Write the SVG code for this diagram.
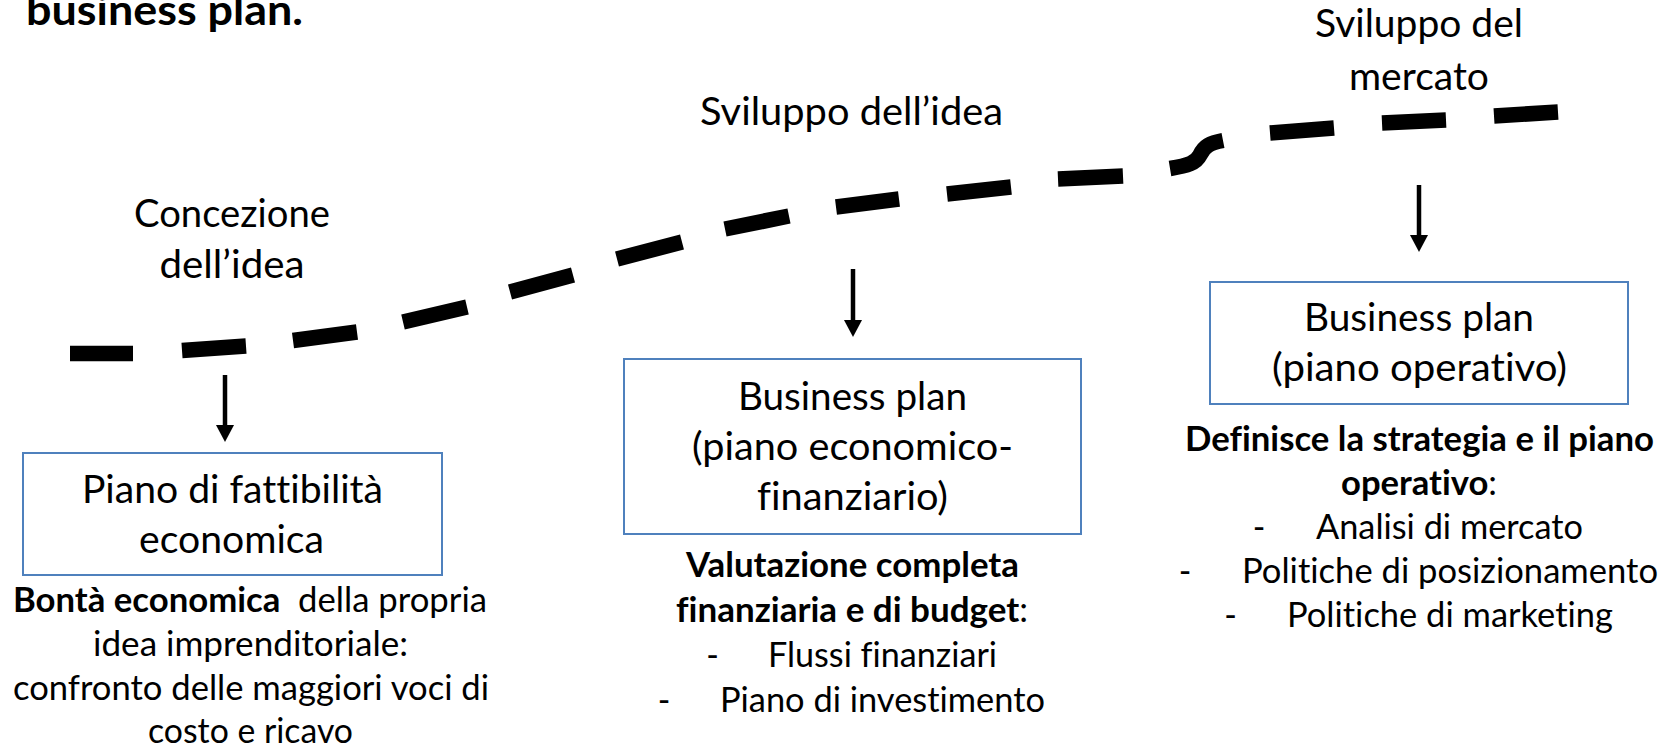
<svg xmlns="http://www.w3.org/2000/svg" width="1671" height="748" viewBox="0 0 1671 748">
  <style>
    .t { font-family: Lato, "Open Sans", "Liberation Sans", sans-serif; fill: #000; font-variant-ligatures: none; font-feature-settings: "liga" 0, "clig" 0; }
    .lg { font-size: 39px; }
    .md { font-size: 34px; }
    .c { text-anchor: middle; }
    .b { font-weight: 700; }
    .box { fill: #fff; stroke: #4f81bd; stroke-width: 2; }
    .arrow { fill: none; stroke: #000; stroke-width: 4.5; marker-end: url(#ah); }
    .dash { fill: none; stroke: #000; stroke-width: 15.5; stroke-linecap: butt; stroke-linejoin: round; }
  </style>
  <defs>
    <marker id="ah" markerUnits="userSpaceOnUse" viewBox="0 0 17 18" markerWidth="17" markerHeight="18" refX="0" refY="9" orient="auto">
      <path d="M0,0 L17,9 L0,18 Z" fill="#000"/>
    </marker>
  </defs>
  <rect width="1671" height="748" fill="#fff"/>

  <g id="title">
    <text class="t b" x="26" y="25" font-size="42" textLength="277" lengthAdjust="spacingAndGlyphs">business plan.</text>
  </g>

  <g id="timeline">
    <path class="dash" d="M70,353.5 L133,353.5 M182,350.5 L246,346 M293,340.5 L357,332 M403,322 L467,307 M510,292 L573,275 M617,259 L682,242 M725,229 L789,216 M836,207 L899,199 M947,194 L1011,187 M1058,179 L1123,176 M1170,168.5 C1188,165.5 1196,163 1200,155 C1204,146 1210,143 1223,140.5 M1270,133 L1334,128 M1382,123 L1446,120 M1494,116 L1558,112"/>
  </g>

  <g id="stage-concezione">
    <text class="t lg c" x="232" y="227" textLength="196" lengthAdjust="spacingAndGlyphs">Concezione</text>
    <text class="t lg c" x="232" y="278" textLength="145" lengthAdjust="spacingAndGlyphs">dell’idea</text>
  </g>

  <g id="stage-sviluppo-idea">
    <text class="t lg c" x="851.5" y="125" textLength="303" lengthAdjust="spacingAndGlyphs">Sviluppo dell’idea</text>
  </g>

  <g id="stage-sviluppo-mercato">
    <text class="t lg c" x="1419" y="37" textLength="208" lengthAdjust="spacingAndGlyphs">Sviluppo del</text>
    <text class="t lg c" x="1419" y="90" textLength="140" lengthAdjust="spacingAndGlyphs">mercato</text>
  </g>

  <g id="connectors">
    <line class="arrow" x1="225" y1="375" x2="225" y2="425"/>
    <line class="arrow" x1="853" y1="269" x2="853" y2="320"/>
    <line class="arrow" x1="1419" y1="185" x2="1419" y2="235"/>
  </g>

  <g id="box-fattibilita">
    <rect class="box" x="23" y="453" width="419" height="122"/>
    <text class="t lg c" x="232.5" y="503" textLength="301" lengthAdjust="spacingAndGlyphs">Piano di fattibilità</text>
    <text class="t lg c" x="231.5" y="553" textLength="185" lengthAdjust="spacingAndGlyphs">economica</text>
  </g>

  <g id="desc-fattibilita">
    <text class="t md c" x="250" y="612" textLength="474" lengthAdjust="spacingAndGlyphs"><tspan class="b">Bontà economica</tspan> &#160;della propria</text>
    <text class="t md c" x="250.5" y="656" textLength="315" lengthAdjust="spacingAndGlyphs">idea imprenditoriale:</text>
    <text class="t md c" x="251" y="700" textLength="476" lengthAdjust="spacingAndGlyphs">confronto delle maggiori voci di</text>
    <text class="t md c" x="250.5" y="743" textLength="205" lengthAdjust="spacingAndGlyphs">costo e ricavo</text>
  </g>

  <g id="box-economico">
    <rect class="box" x="624" y="359" width="457" height="175"/>
    <text class="t lg c" x="852.5" y="410" textLength="229" lengthAdjust="spacingAndGlyphs">Business plan</text>
    <text class="t lg c" x="852.5" y="460" textLength="321" lengthAdjust="spacingAndGlyphs">(piano economico-</text>
    <text class="t lg c" x="852.5" y="510" textLength="191" lengthAdjust="spacingAndGlyphs">finanziario)</text>
  </g>

  <g id="desc-economico">
    <text class="t md c b" x="852.5" y="577" textLength="333" lengthAdjust="spacingAndGlyphs">Valutazione completa</text>
    <text class="t md c" x="852" y="622" textLength="352" lengthAdjust="spacingAndGlyphs"><tspan class="b">finanziaria e di budget</tspan>:</text>
    <text class="t md c" x="712.5" y="667">-</text>
    <text class="t md" x="768" y="667" textLength="229" lengthAdjust="spacingAndGlyphs">Flussi finanziari</text>
    <text class="t md c" x="664" y="712">-</text>
    <text class="t md" x="720" y="712" textLength="325" lengthAdjust="spacingAndGlyphs">Piano di investimento</text>
  </g>

  <g id="box-operativo">
    <rect class="box" x="1210" y="282" width="418" height="122"/>
    <text class="t lg c" x="1419" y="331" textLength="230" lengthAdjust="spacingAndGlyphs">Business plan</text>
    <text class="t lg c" x="1419.5" y="381" textLength="295" lengthAdjust="spacingAndGlyphs">(piano operativo)</text>
  </g>

  <g id="desc-operativo">
    <text class="t md c b" x="1419.5" y="451" textLength="469" lengthAdjust="spacingAndGlyphs">Definisce la strategia e il piano</text>
    <text class="t md c" x="1419" y="495" textLength="156" lengthAdjust="spacingAndGlyphs"><tspan class="b">operativo</tspan>:</text>
    <text class="t md c" x="1259" y="539">-</text>
    <text class="t md" x="1316" y="539" textLength="267" lengthAdjust="spacingAndGlyphs">Analisi di mercato</text>
    <text class="t md c" x="1185" y="583">-</text>
    <text class="t md" x="1242" y="583" textLength="416" lengthAdjust="spacingAndGlyphs">Politiche di posizionamento</text>
    <text class="t md c" x="1230.5" y="627">-</text>
    <text class="t md" x="1287" y="627" textLength="326" lengthAdjust="spacingAndGlyphs">Politiche di marketing</text>
  </g>
</svg>
